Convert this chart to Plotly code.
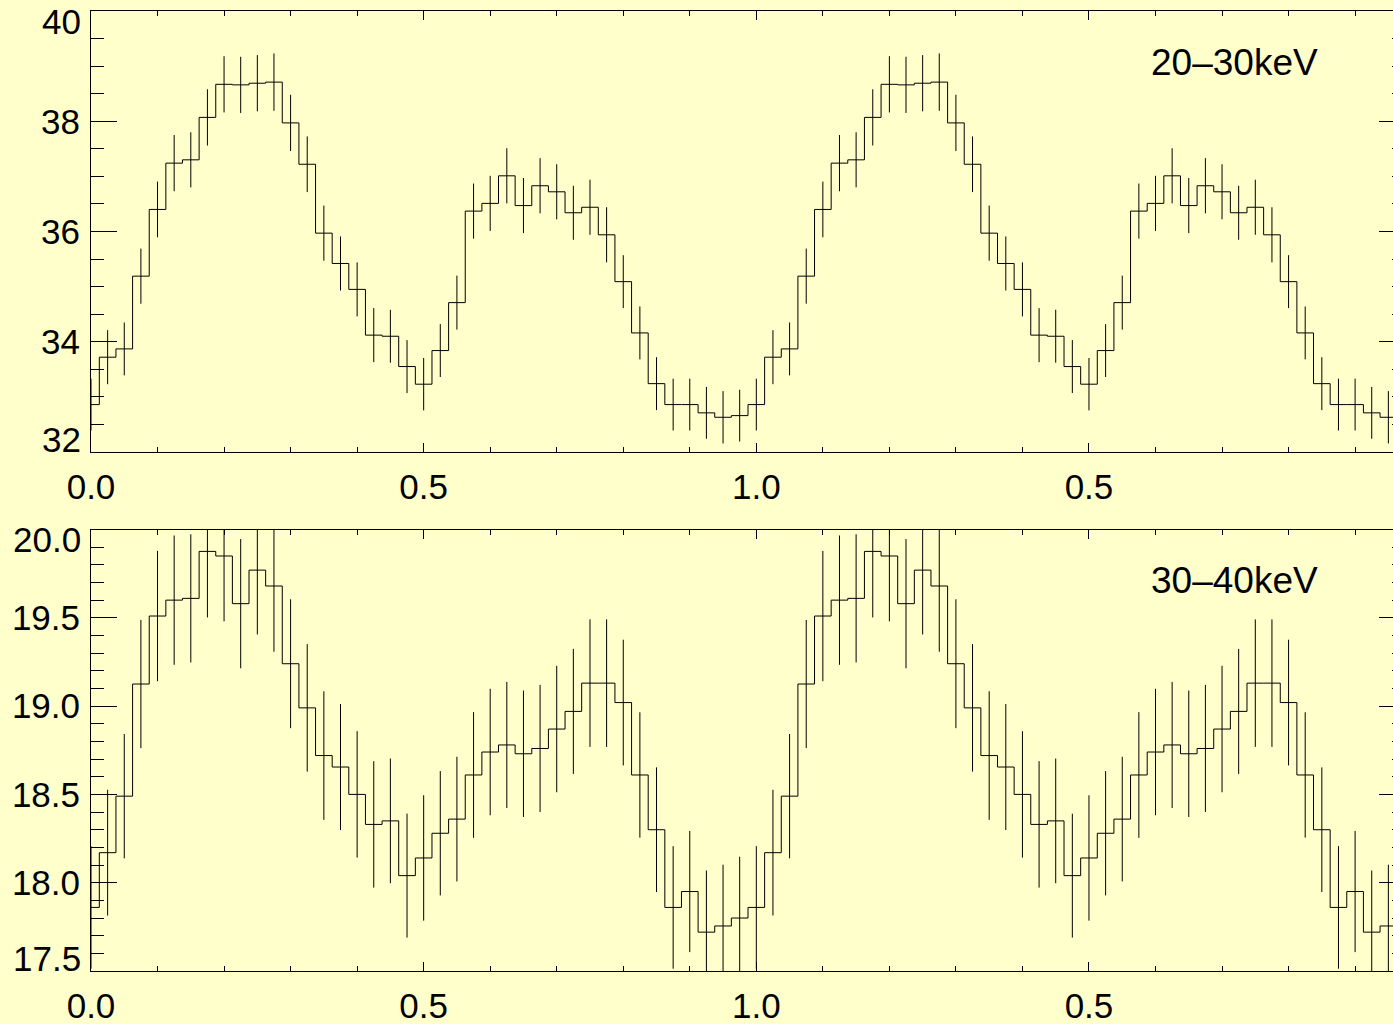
import plotly.graph_objects as go

# ---------------- data ----------------
N_BINS = 40                      # bins per pulse cycle
BIN_WIDTH = 0.025
phase = [i * BIN_WIDTH for i in range(2 * N_BINS)]   # two cycles shown

rate_20_30 = [32.86, 33.72, 33.87, 35.19, 36.40, 37.24, 37.30, 38.07, 38.67, 38.66,
              38.69, 38.71, 37.97, 37.22, 35.97, 35.42, 34.95, 34.12, 34.10, 33.55,
              33.23, 33.84, 34.71, 36.37, 36.51, 37.01, 36.47, 36.83, 36.72, 36.34,
              36.44, 35.94, 35.09, 34.16, 33.24, 32.86, 32.86, 32.71, 32.63, 32.66]
err_20_30 = [0.47, 0.49, 0.48, 0.50, 0.505, 0.51, 0.50, 0.51, 0.51, 0.51,
             0.51, 0.52, 0.51, 0.505, 0.50, 0.49, 0.49, 0.49, 0.48, 0.48,
             0.475, 0.48, 0.49, 0.50, 0.50, 0.50, 0.50, 0.50, 0.50, 0.49,
             0.50, 0.50, 0.48, 0.48, 0.48, 0.47, 0.47, 0.47, 0.475, 0.47]

rate_30_40 = [17.86, 18.17, 18.49, 19.125, 19.51, 19.60, 19.61, 19.876, 19.85, 19.58,
              19.77, 19.68, 19.24, 18.99, 18.72, 18.655, 18.50, 18.33, 18.35, 18.04,
              18.14, 18.28, 18.36, 18.61, 18.74, 18.78, 18.73, 18.76, 18.87, 18.97,
              19.13, 19.13, 19.02, 18.61, 18.30, 17.86, 17.95, 17.72, 17.755, 17.80]
err_30_40 = [0.347, 0.356, 0.352, 0.363, 0.369, 0.366, 0.363, 0.374, 0.370, 0.366,
             0.364, 0.372, 0.365, 0.361, 0.364, 0.357, 0.358, 0.358, 0.353, 0.351,
             0.355, 0.352, 0.353, 0.356, 0.358, 0.357, 0.358, 0.360, 0.358, 0.354,
             0.361, 0.361, 0.356, 0.355, 0.353, 0.347, 0.343, 0.349, 0.347, 0.347]

x_tickvals = [0.0, 0.5, 1.0, 1.5]
x_ticktext = ["0.0", "0.5", "1.0", "0.5"]
x_range = [0.0, 1.975]

y1_tickvals = [32, 34, 36, 38, 40]
y1_ticktext = ["32", "34", "36", "38", "40"]
y1_range = [32, 40]

y2_tickvals = [17.5, 18.0, 18.5, 19.0, 19.5, 20.0]
y2_ticktext = ["17.5", "18.0", "18.5", "19.0", "19.5", "20.0"]
y2_range = [17.5, 20.0]

band_labels = ["20\u201330keV", "30\u201340keV"]

# ---------------- style ----------------
BG = "#FFFFCC"
FONT = "Liberation Sans, Arial, Helvetica, sans-serif"
TICK_FONT = dict(family=FONT, size=35, color="black")

fig = go.Figure()

for rates, errs, xa, ya in [(rate_20_30, err_20_30, "x", "y"),
                            (rate_30_40, err_30_40, "x2", "y2")]:
    fig.add_trace(go.Scatter(
        x=phase, y=rates + rates,
        mode="lines", line=dict(shape="hvh", color="black", width=1),
        error_y=dict(type="data", array=errs + errs, visible=True,
                     width=0, thickness=1, color="black"),
        xaxis=xa, yaxis=ya, showlegend=False, hoverinfo="skip",
    ))


def xaxis_cfg(anchor):
    return dict(
        anchor=anchor, domain=[0, 1], range=x_range,
        tickmode="array", tickvals=x_tickvals, ticktext=x_ticktext,
        ticks="inside", ticklen=9, tickwidth=1, tickcolor="black",
        minor=dict(tickmode="linear", tick0=0, dtick=0.1, ticks="inside",
                   ticklen=5, tickwidth=1, tickcolor="black", showgrid=False),
        showline=True, linewidth=1, linecolor="black", mirror="allticks",
        showgrid=False, zeroline=False, tickfont=TICK_FONT,
        ticklabelstandoff=4,
    )


def yaxis_cfg(anchor, domain, rng, vals, text, minor_dtick):
    # end labels are drawn separately (nudged inward, as in the original)
    shown = [""] + text[1:-1] + [""]
    return dict(
        anchor=anchor, domain=domain, range=rng,
        tickmode="array", tickvals=vals, ticktext=shown,
        ticks="inside", ticklen=26, tickwidth=1, tickcolor="black",
        minor=dict(tickmode="linear", tick0=rng[0], dtick=minor_dtick, ticks="inside",
                   ticklen=13, tickwidth=1, tickcolor="black", showgrid=False),
        showline=True, linewidth=1, linecolor="black", mirror="allticks",
        showgrid=False, zeroline=False, tickfont=TICK_FONT,
        ticklabelstandoff=3,
    )


H = 1024.0
fig.update_layout(
    width=1405, height=1024,
    margin=dict(l=91, r=0, t=0, b=0),
    paper_bgcolor=BG, plot_bgcolor=BG,
    font=dict(family=FONT, color="black"),
    xaxis=xaxis_cfg("y"),
    xaxis2=xaxis_cfg("y2"),
    yaxis=yaxis_cfg("x", [(H - 452) / H, (H - 11) / H], y1_range,
                    y1_tickvals, y1_ticktext, 0.5),
    yaxis2=yaxis_cfg("x2", [(H - 971) / H, (H - 529.5) / H], y2_range,
                     y2_tickvals, y2_ticktext, 0.1),
)

annotations = []
# end tick labels of each y axis
for yref, vals, text in [("y", y1_tickvals, y1_ticktext), ("y2", y2_tickvals, y2_ticktext)]:
    annotations.append(dict(x=0, xref="x domain" if yref == "y" else "x2 domain",
                            y=vals[0], yref=yref, text=text[0], showarrow=False,
                            xanchor="right", yanchor="middle", xshift=-8, yshift=13,
                            font=TICK_FONT))
    annotations.append(dict(x=0, xref="x domain" if yref == "y" else "x2 domain",
                            y=vals[-1], yref=yref, text=text[-1], showarrow=False,
                            xanchor="right", yanchor="middle", xshift=-8, yshift=-10,
                            font=TICK_FONT))
# energy band labels
annotations.append(dict(x=1.718, y=39.07, xref="x", yref="y", text=band_labels[0],
                        showarrow=False, xanchor="center", yanchor="middle",
                        font=dict(family=FONT, size=37, color="black")))
annotations.append(dict(x=1.718, y=19.714, xref="x2", yref="y2", text=band_labels[1],
                        showarrow=False, xanchor="center", yanchor="middle",
                        font=dict(family=FONT, size=37, color="black")))
fig.update_layout(annotations=annotations)

fig.write_html("out.html", config={"displayModeBar": False},
               post_script="document.documentElement.style.overflow='hidden';"
                           "document.body.style.overflow='hidden';")
